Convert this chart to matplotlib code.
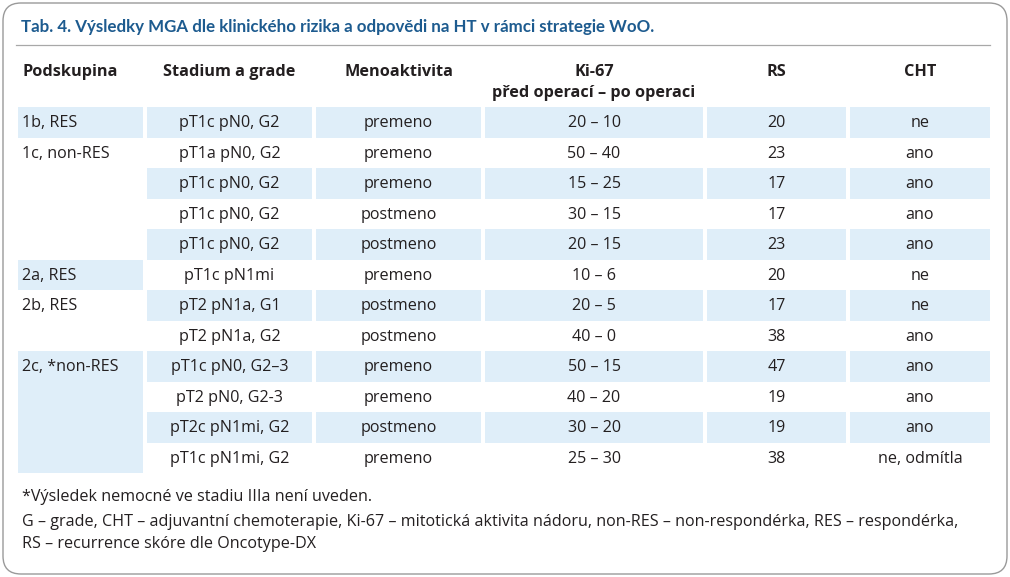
import matplotlib
matplotlib.use("Agg")
import matplotlib.pyplot as plt
from matplotlib.patches import FancyBboxPatch, Rectangle

title = "Tab. 4. Výsledky MGA dle klinického rizika a odpovědi na HT v rámci strategie WoO."
headers = ["Podskupina", "Stadium a grade", "Menoaktivita", "Ki-67\npřed operací – po operaci", "RS", "CHT"]

groups = ["1b, RES", "1c, non-RES", "2a, RES", "2b, RES", "2c, *non-RES"]
group_sizes = [1, 4, 1, 2, 4]

stadium = ["pT1c pN0, G2", "pT1a pN0, G2", "pT1c pN0, G2", "pT1c pN0, G2", "pT1c pN0, G2",
           "pT1c pN1mi", "pT2 pN1a, G1", "pT2 pN1a, G2", "pT1c pN0, G2–3", "pT2 pN0, G2-3",
           "pT2c pN1mi, G2", "pT1c pN1mi, G2"]
meno = ["premeno", "premeno", "premeno", "postmeno", "postmeno", "premeno", "postmeno",
        "postmeno", "premeno", "premeno", "postmeno", "premeno"]
ki67 = ["20 – 10", "50 – 40", "15 – 25", "30 – 15", "20 – 15", "10 – 6", "20 – 5", "40 – 0",
        "50 – 15", "40 – 20", "30 – 20", "25 – 30"]
rs = [20, 23, 17, 17, 23, 20, 17, 38, 47, 19, 19, 38]
cht = ["ne", "ano", "ano", "ano", "ano", "ne", "ne", "ano", "ano", "ano", "ano", "ne, odmítla"]

footnotes = [
    "*Výsledek nemocné ve stadiu IIIa není uveden.",
    "G – grade, CHT – adjuvantní chemoterapie, Ki-67 – mitotická aktivita nádoru, non-RES – non-respondérka, RES – respondérka,",
    "RS – recurrence skóre dle Oncotype-DX",
]

FONT = ["Open Sans", "DejaVu Sans"]
TFONT = ["Lato", "DejaVu Sans"]
TXT = "#231f20"
SHADE = "#dfeef9"
BLUE = "#1d5b8f"
FS = 11.6
FSH = 11.7

W, H = 1010, 577
fig = plt.figure(figsize=(W / 100, H / 100), dpi=100)
ax = fig.add_axes([0, 0, 1, 1])
ax.set_xlim(0, W)
ax.set_ylim(H, 0)
ax.axis("off")

# border
ax.add_patch(FancyBboxPatch((3, 3), W - 6, H - 6, boxstyle="round,pad=0,rounding_size=18",
                            fc="white", ec="#9a9a9a", lw=1.0))

ax.text(21, 27, title, fontsize=12.15, fontweight="bold", color=BLUE, va="center", ha="left",
        family=TFONT)
ax.plot([16, 990], [44.5, 44.5], color="#a8a8a8", lw=0.9)

col_l = [18, 147, 316, 485, 707, 850]
col_r = [143, 312, 481, 703, 846, 990]
col_c = [(a + b) / 2 for a, b in zip(col_l, col_r)]

# headers
for i, h in enumerate(headers):
    if i == 0:
        ax.text(22, 72, h, fontsize=FSH, fontweight="bold", color=TXT, va="center", ha="left", family=FONT)
    elif "\n" in h:
        l1, l2 = h.split("\n")
        ax.text(col_c[i], 72, l1, fontsize=FSH, fontweight="bold", color=TXT, va="center", ha="center", family=FONT)
        ax.text(col_c[i], 93, l2, fontsize=FSH, fontweight="bold", color=TXT, va="center", ha="center", family=FONT)
    else:
        ax.text(col_c[i], 72, h, fontsize=FSH, fontweight="bold", color=TXT, va="center", ha="center", family=FONT)

top = 107
rh = 30.5
n = len(stadium)

# group column
r = 0
for g, (name, sz) in enumerate(zip(groups, group_sizes)):
    y0 = top + r * rh
    if g % 2 == 0:
        ax.add_patch(Rectangle((col_l[0], y0), col_r[0] - col_l[0], sz * rh, fc=SHADE, ec="none"))
    ax.text(22, y0 + rh / 2 + 1, name, fontsize=FS, color=TXT, va="center", ha="left", family=FONT)
    r += sz

cols = [stadium, meno, ki67, [str(v) for v in rs], cht]
for i in range(n):
    y0 = top + i * rh
    for j, col in enumerate(cols, start=1):
        if i % 2 == 0:
            ax.add_patch(Rectangle((col_l[j], y0), col_r[j] - col_l[j], rh, fc=SHADE, ec="none"))
        ax.text(col_c[j], y0 + rh / 2 + 1, col[i], fontsize=FS, color=TXT, va="center", ha="center", family=FONT)

for k, (fy, ft) in enumerate(zip([497, 522, 544], footnotes)):
    ax.text(22, fy, ft, fontsize=FS, color=TXT, va="center", ha="left", family=FONT)

fig.savefig("out.png", dpi=100)
